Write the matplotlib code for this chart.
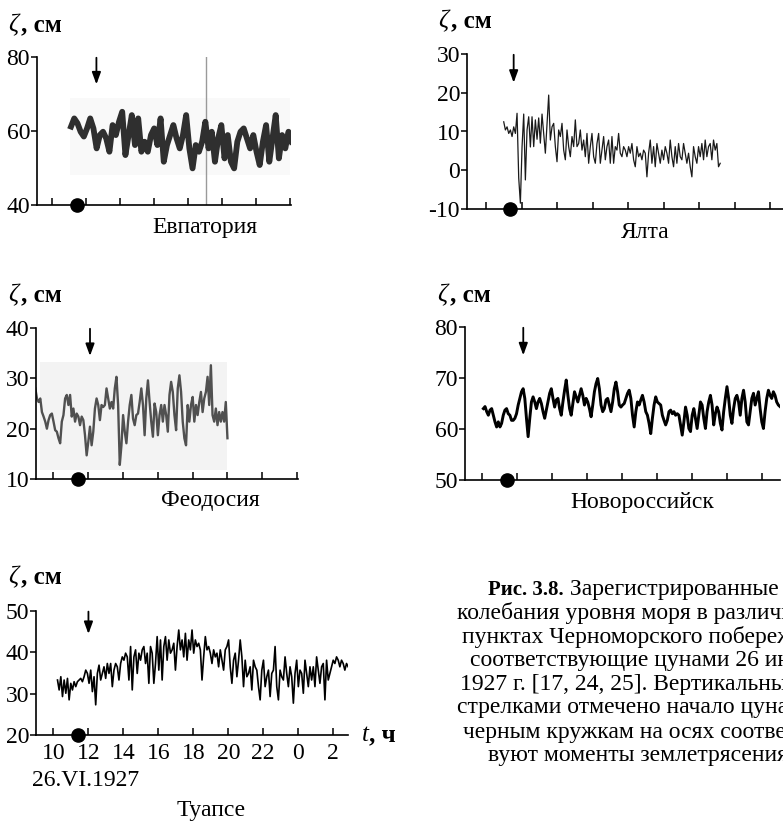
import matplotlib
matplotlib.use("Agg")
import matplotlib.pyplot as plt
import numpy as np

plt.rcParams["font.family"] = ["Liberation Serif", "DejaVu Serif"]
plt.rcParams["axes.unicode_minus"] = False

W, H, DPI = 783, 822, 100

# ---------------------------------------------------------------------------
# Sea level records, cm. Time in hours of 26.VI.1927 (24, 26 = 0, 2 next day)
# ---------------------------------------------------------------------------
evp_start, evp_end = 11.13, 24.09
evp_level = [61.2, 63.4, 62.1, 59.8, 58.5, 60.7, 63.4, 60.7, 55.3, 58.9, 59.8, 58.0,
             54.4, 61.6, 58.9, 62.5, 65.2, 53.5, 58.9, 64.3, 56.2, 63.4, 54.4, 57.1,
             54.4, 58.9, 60.7, 56.2, 63.4, 51.7, 56.2, 58.9, 61.6, 58.0, 55.3, 58.9,
             64.3, 55.3, 49.9, 56.2, 54.4, 57.1, 62.5, 55.3, 59.8, 51.7, 58.0, 61.6,
             52.6, 58.9, 51.7, 49.9, 57.1, 59.8, 60.7, 58.0, 55.3, 58.9, 54.4, 50.8,
             57.1, 61.6, 51.7, 58.0, 64.3, 52.6, 58.9, 55.3, 59.8, 57.1]

yal_start, yal_end = 10.98, 23.18
yal_level = [12.5, 10.4, 11.2, 9.5, 10.4, 8.7, 11.2, 9.5, 14.7, -2.0, -8.5, 6.0,
             14.5, -2.5, 10.4, 13.8, 6.0, 13.8, 6.1, 13.0, 8.0, 13.5, 7.0, 14.5,
             9.5, 4.4, 12.1, 19.4, 7.8, 11.2, 12.1, 6.1, 2.2, 10.4, 8.7, 12.1,
             5.2, 2.7, 10.4, 6.1, 3.5, 8.7, 6.1, 13.0, 6.1, 6.9, 10.4, 5.2,
             7.8, 3.5, 9.5, 1.8, 6.1, 9.5, 3.5, 1.8, 6.9, 9.5, 1.8, 5.2,
             8.7, 2.7, 6.1, 7.8, 1.8, 8.7, 1.8, 6.1, 5.2, 9.5, 4.4, 3.5,
             6.1, 5.2, 3.5, 6.1, 4.4, 6.9, 2.7, 0.9, 6.1, 3.5, 4.4, 2.7,
             5.2, 4.4, -1.7, 4.4, 7.8, 1.8, 6.1, 0.9, 6.9, 4.4, 1.8, 5.2,
             2.7, 6.1, 4.4, 1.8, 7.8, 3.5, 0.9, 6.1, 1.8, 6.9, 3.5, 2.7,
             6.9, 4.4, 1.8, 4.4, 0.9, -1.7, 6.1, 3.5, 1.8, 6.1, 3.5, 6.9,
             2.7, 7.8, 3.5, 6.1, 6.9, 2.7, 7.8, 5.2, 6.9, 0.9, 1.8]

feo_start, feo_end = 8.97, 20.0
feo_level = [28.0, 26.0, 25.3, 26.0, 23.3, 22.4, 21.4, 20.0, 21.7, 22.7, 23.0, 21.4,
             19.7, 19.4, 18.1, 17.1, 21.4, 22.7, 26.0, 26.7, 24.7, 26.7, 22.4, 24.0,
             21.4, 23.0, 22.4, 20.7, 22.4, 21.7, 18.7, 14.7, 17.4, 20.4, 16.7, 19.4,
             24.0, 26.0, 24.7, 21.7, 24.7, 24.3, 24.7, 28.0, 26.0, 24.0, 25.3, 24.0,
             28.0, 30.3, 24.7, 12.8, 16.7, 22.7, 19.4, 17.1, 21.4, 24.7, 26.7, 22.0,
             20.7, 22.7, 23.0, 25.3, 28.0, 24.7, 18.7, 26.0, 29.6, 25.3, 21.4, 18.4,
             25.0, 23.3, 18.7, 22.7, 24.7, 21.4, 24.7, 22.7, 19.4, 26.7, 29.3, 27.3,
             22.7, 19.7, 28.0, 30.6, 27.3, 21.4, 18.1, 16.7, 24.7, 21.4, 24.7, 26.3,
             21.4, 24.7, 22.7, 25.3, 27.3, 23.3, 26.0, 27.3, 30.3, 24.7, 32.6, 22.7,
             21.4, 24.0, 20.7, 23.3, 21.4, 23.3, 21.4, 25.3, 18.1]

nov_start, nov_end = 10.08, 27.03
nov_level = [64.0, 64.4, 63.4, 62.7, 63.7, 64.0, 62.7, 61.4, 60.4, 61.4, 60.4, 61.1,
             62.7, 63.7, 64.0, 63.0, 62.7, 61.7, 61.7, 62.1, 63.0, 64.7, 66.0, 67.3,
             67.9, 66.0, 62.1, 58.5, 62.1, 65.3, 66.3, 65.3, 64.0, 65.3, 66.0, 65.0,
             63.4, 62.1, 63.7, 65.3, 67.0, 67.9, 66.0, 64.3, 65.7, 66.0, 64.0, 62.7,
             65.3, 67.6, 69.6, 66.6, 64.0, 62.7, 65.0, 67.3, 66.3, 65.3, 66.6, 67.9,
             66.6, 64.7, 66.0, 65.3, 64.0, 62.4, 64.7, 67.3, 68.9, 69.9, 67.9, 64.7,
             63.4, 64.0, 65.7, 66.0, 64.7, 63.4, 65.3, 67.9, 69.2, 67.3, 64.7, 64.3,
             64.7, 65.0, 66.0, 67.0, 67.6, 66.0, 62.7, 60.4, 63.4, 65.3, 64.7, 65.7,
             66.6, 65.3, 63.4, 62.7, 61.1, 59.1, 62.1, 64.7, 66.3, 65.3, 65.0, 64.7,
             62.7, 61.7, 60.8, 61.7, 63.4, 63.7, 63.0, 63.4, 62.7, 63.0, 62.7, 60.8,
             58.8, 61.4, 64.3, 62.7, 60.1, 59.5, 62.7, 64.0, 62.1, 60.1, 62.7, 65.3,
             64.7, 62.1, 60.1, 63.4, 65.3, 66.6, 64.7, 60.8, 63.0, 64.3, 63.4, 61.1,
             59.8, 63.4, 66.0, 68.3, 66.0, 62.7, 61.1, 64.0, 66.0, 66.6, 65.3, 62.7,
             66.0, 67.6, 65.3, 61.4, 60.8, 63.4, 66.0, 67.0, 64.7, 66.0, 67.3, 64.0,
             61.4, 60.1, 63.4, 66.0, 67.6, 66.6, 66.0, 67.3, 66.6, 65.3, 64.7, 64.4]

tua_start, tua_end = 10.23, 26.86
tua_level = [33.3, 30.9, 34.1, 29.3, 33.3, 30.1, 33.7, 28.5, 32.5, 30.9, 32.9, 31.7,
             32.9, 33.3, 33.7, 32.9, 34.1, 35.7, 34.9, 32.5, 35.7, 30.5, 34.1, 27.3,
             34.9, 36.9, 33.3, 34.9, 36.5, 33.7, 37.3, 34.9, 37.3, 31.7, 35.7, 37.3,
             36.5, 33.3, 37.3, 38.9, 38.1, 39.8, 38.9, 33.3, 41.4, 30.9, 38.9, 40.6,
             34.9, 39.8, 38.1, 40.6, 41.4, 37.3, 39.8, 32.5, 41.4, 39.8, 32.5, 37.3,
             43.8, 35.7, 43.0, 33.3, 41.4, 43.8, 38.1, 43.0, 39.8, 40.6, 42.2, 35.7,
             41.4, 45.4, 40.6, 43.0, 38.9, 44.6, 38.1, 43.0, 40.6, 45.4, 39.8, 43.0,
             41.4, 42.2, 40.6, 33.3, 38.9, 43.8, 40.6, 41.4, 39.8, 37.3, 40.6, 38.9,
             39.8, 36.5, 40.6, 38.1, 35.7, 40.6, 41.4, 43.0, 36.5, 32.5, 38.1, 39.8,
             34.1, 38.1, 43.0, 38.9, 31.7, 38.1, 34.1, 34.9, 36.5, 30.9, 38.1, 36.5,
             35.7, 31.7, 28.5, 35.7, 38.1, 31.7, 34.1, 35.7, 29.3, 34.9, 35.7, 41.4,
             31.7, 28.5, 35.7, 34.1, 33.3, 38.9, 34.9, 31.7, 36.5, 34.1, 27.7, 34.9,
             38.1, 31.7, 35.7, 34.9, 30.1, 38.1, 34.9, 31.7, 36.5, 33.3, 36.5, 31.7,
             38.9, 35.7, 32.5, 36.5, 37.3, 28.5, 38.1, 33.3, 34.9, 36.5, 38.1, 37.3,
             38.9, 38.1, 36.5, 38.1, 37.3, 35.7, 37.3, 36.5]

# tsunami onset (arrows) and earthquake moments (dots), hours
onset = {"evp": 12.62, "yal": 11.54, "feo": 12.11, "nov": 12.36, "tua": 12.0}
quake = {"evp": 11.46, "yal": 11.35, "feo": 11.41, "nov": 11.41, "tua": 11.39}

tua_ticks = [10, 12, 14, 16, 18, 20, 22, 24, 26]
tua_ticklabels = ["10", "12", "14", "16", "18", "20", "22", "0", "2"]

caption = [
    "колебания уровня моря в различных",
    "пунктах Черноморского побережья,",
    "соответствующие цунами 26 июня",
    "1927 г. [17, 24, 25]. Вертикальными",
    "стрелками отмечено начало цунами,",
    "черным кружкам на осях соответст-",
    "вуют моменты землетрясения.",
]

FS = 17


def px_rect(left, top, right, bottom):
    return [left / W, 1 - bottom / H, (right - left) / W, (bottom - top) / H]


def ftext(x, y, s, **kw):
    kw.setdefault("va", "center")
    kw.setdefault("fontsize", FS)
    return fig.text(x / W, 1 - y / H, s, **kw)


def panel(rect, xlim, ylim, yticks, arrow_x, dot_x):
    ax = fig.add_axes(px_rect(*rect))
    ax.set_xlim(*xlim)
    ax.set_ylim(*ylim)
    for s in ("top", "right"):
        ax.spines[s].set_visible(False)
    for s in ("left", "bottom"):
        ax.spines[s].set_linewidth(1.2)
    ax.set_xticks(np.arange(10, xlim[1] + 0.01, 2))
    ax.set_yticks(yticks)
    ax.tick_params(axis="x", direction="in", length=5, width=1.1, labelbottom=False)
    ax.tick_params(axis="y", direction="out", length=4, width=1.1, pad=1, labelsize=FS)
    ax.patch.set_alpha(0)
    span = ylim[1] - ylim[0]
    ax.annotate("", xy=(arrow_x, ylim[1] - 0.185 * span), xytext=(arrow_x, ylim[1] - 0.005 * span),
                arrowprops=dict(arrowstyle="-|>,head_length=0.6,head_width=0.22", color="black",
                                lw=1.3, shrinkA=0, shrinkB=0, mutation_scale=12),
                annotation_clip=False)
    ax.plot([dot_x], [ylim[0]], "o", color="black", ms=9.5, clip_on=False, zorder=6)
    return ax


fig = plt.figure(figsize=(W / DPI, H / DPI), dpi=DPI)
over = fig.add_axes([0, 0, 1, 1])
over.axis("off")

# Евпатория
ax = panel((37, 57, 291, 205), (9.13, 24.05), (40, 80), [40, 60, 80], onset["evp"], quake["evp"])
ax.axvspan(11.05, 24.0, ymin=0.2, ymax=0.72, color="#f9f9f9", lw=0, zorder=0)
ax.axvline(19.04, color="#9a9a9a", lw=1.0, zorder=1)
ax.plot(np.linspace(evp_start, evp_end, len(evp_level)), evp_level,
        color="#2f2f2f", lw=4.2, solid_joinstyle="round", zorder=2)

# Ялта
ax = panel((467, 54, 783, 209), (8.91, 26.72), (-10, 30), [-10, 0, 10, 20, 30], onset["yal"], quake["yal"])
ax.plot(np.linspace(yal_start, yal_end, len(yal_level)), yal_level, color="#1a1a1a", lw=0.9)

# Феодосия
ax = panel((36, 328, 298, 479), (9.01, 24.05), (10, 40), [10, 20, 30, 40], onset["feo"], quake["feo"])
ax.axvspan(9.26, 20.0, ymin=0.06, ymax=0.775, color="#f3f3f3", lw=0, zorder=0)
ax.plot(np.linspace(feo_start, feo_end, len(feo_level)), feo_level, color="#505050", lw=1.7)

# Новороссийск
ax = panel((465, 327, 780, 480), (9.03, 27.03), (50, 80), [50, 60, 70, 80], onset["nov"], quake["nov"])
ax.plot(np.linspace(nov_start, nov_end, len(nov_level)), nov_level, color="black", lw=2.1)

# Туапсе
ax = panel((36, 611, 348, 735), (9.0, 26.85), (20, 50), [20, 30, 40, 50], onset["tua"], quake["tua"])
ax.plot(np.linspace(tua_start, tua_end, len(tua_level)), tua_level, color="black", lw=1.2)
ax.set_xticks(tua_ticks)
ax.set_xticklabels(tua_ticklabels)
ax.tick_params(axis="x", labelbottom=True, labelsize=FS, pad=6)

# axis titles
for x0, y0 in [(8, 25), (438, 21), (8, 295), (437, 295), (8, 577)]:
    ftext(x0, y0, "ζ", style="italic", fontsize=18, ha="left")
    ftext(x0 + 13, y0, ", см", fontweight="bold", fontsize=18, ha="left")
ftext(362, 735, "t", style="italic", fontsize=18, ha="left")
ftext(369, 735, ", ч", fontweight="bold", fontsize=18, ha="left")

# station names
ftext(205, 228, "Евпатория", ha="center")
ftext(645, 232, "Ялта", ha="center")
ftext(210, 500, "Феодосия", ha="center")
ftext(642, 502, "Новороссийск", ha="center")
ftext(211, 810, "Туапсе", ha="center")
ftext(86, 780, "26.VI.1927", ha="center")

# caption (cut by the right edge, as in the source page)
head = ftext(488, 590, "Рис. 3.8.", fontweight="bold", fontsize=15, ha="left")
over.annotate(" Зарегистрированные", xy=(1, 0), xycoords=head, ha="left", va="bottom",
              fontsize=FS)
cap_x = [457, 462, 470, 460, 457, 463, 488]
cap_y = [613, 637, 660, 684, 708, 732, 755]
for x0, y0, line in zip(cap_x, cap_y, caption):
    ftext(x0, y0, line, ha="left")

fig.savefig("out.png", dpi=DPI)
